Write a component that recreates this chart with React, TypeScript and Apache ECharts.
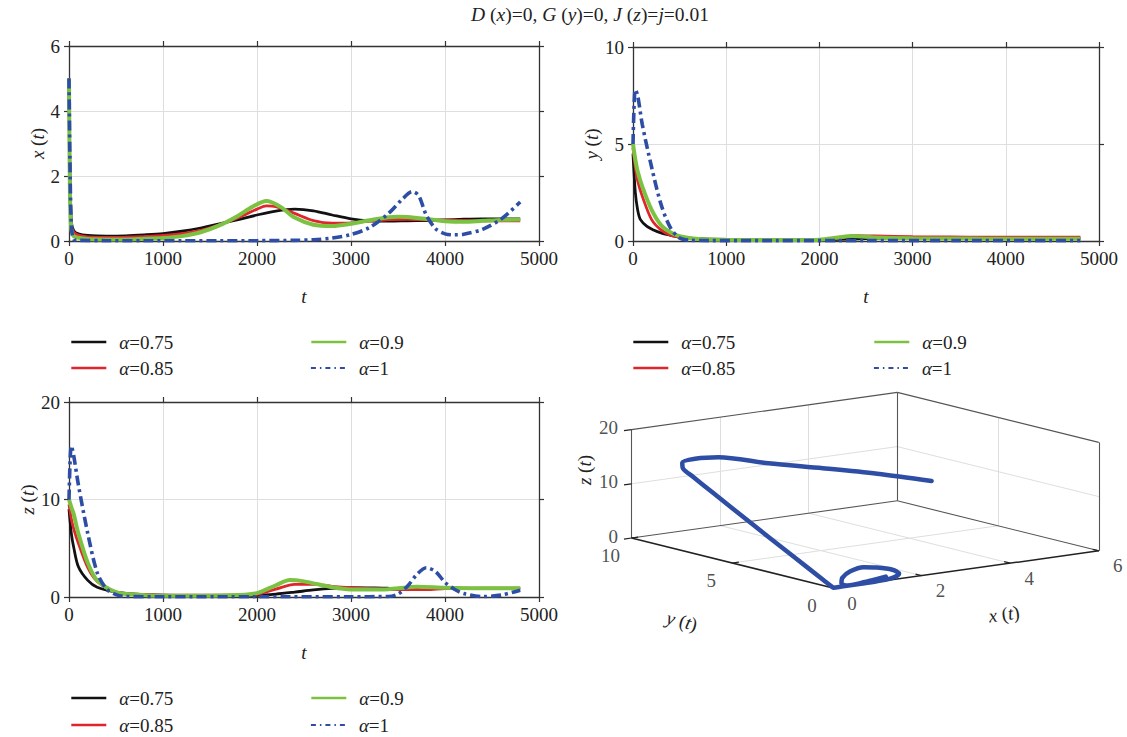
import React, { useEffect, useRef } from "react";
import * as echarts from "echarts";

// ---------- data ----------
const SERIES_NAMES = ["α=0.75", "α=0.85", "α=0.9", "α=1"];
const SERIES_COLORS = ["#111111", "#e0262c", "#7cc242", "#2e4ea5"];
const SERIES_WIDTHS = [2.8, 2.8, 4, 3.6];

// x(t)
const xA075: [number, number][] = [[0,5],[10,2],[25,0.6],[50,0.32],[100,0.22],[200,0.17],[400,0.15],[600,0.16],[800,0.19],[1000,0.23],[1200,0.3],[1400,0.4],[1600,0.53],[1800,0.66],[2000,0.8],[2200,0.92],[2400,0.98],[2600,0.93],[2800,0.8],[3000,0.68],[3200,0.62],[3400,0.61],[3600,0.62],[3800,0.63],[4000,0.65],[4200,0.67],[4400,0.68],[4600,0.68],[4800,0.68]];
const xA085: [number, number][] = [[0,5],[10,1.8],[25,0.45],[50,0.27],[100,0.18],[200,0.13],[400,0.11],[600,0.12],[800,0.14],[1000,0.17],[1200,0.23],[1400,0.33],[1600,0.5],[1800,0.72],[2000,0.98],[2100,1.08],[2200,1.06],[2400,0.85],[2600,0.63],[2800,0.55],[3000,0.56],[3200,0.61],[3400,0.66],[3600,0.67],[3800,0.65],[4000,0.64],[4200,0.63],[4400,0.62],[4600,0.62],[4800,0.62]];
const xA09: [number, number][] = [[0,5],[10,1.5],[25,0.35],[50,0.15],[100,0.1],[200,0.06],[400,0.05],[600,0.05],[800,0.07],[1000,0.09],[1200,0.15],[1400,0.27],[1600,0.48],[1800,0.78],[1950,1.05],[2100,1.23],[2250,1.05],[2400,0.72],[2600,0.5],[2800,0.46],[3000,0.53],[3200,0.64],[3400,0.73],[3500,0.75],[3600,0.74],[3800,0.68],[4000,0.61],[4200,0.59],[4400,0.62],[4600,0.65],[4800,0.66]];
const xA1: [number, number][] = [[0,5],[10,2.5],[25,0.5],[50,0.05],[100,0.02],[400,0.01],[800,0.01],[1200,0.01],[1600,0.01],[2000,0.01],[2400,0.02],[2600,0.04],[2800,0.09],[3000,0.2],[3200,0.42],[3400,0.85],[3550,1.3],[3650,1.52],[3720,1.4],[3800,0.8],[3900,0.38],[4000,0.22],[4100,0.19],[4200,0.21],[4400,0.36],[4600,0.68],[4800,1.2]];

// y(t)
const yA075: [number, number][] = [[0,4.5],[25,2.5],[50,1.6],[80,1.1],[150,0.75],[220,0.57],[300,0.42],[400,0.3],[500,0.2],[700,0.12],[1000,0.08],[1400,0.06],[1800,0.06],[2200,0.08],[2600,0.14],[3000,0.18],[3400,0.16],[3800,0.15],[4200,0.15],[4800,0.15]];
const yA085: [number, number][] = [[0,4.8],[25,3.8],[50,3.1],[100,2.3],[200,1.1],[300,0.57],[400,0.3],[500,0.2],[700,0.1],[1000,0.07],[1400,0.05],[1800,0.05],[2000,0.07],[2200,0.15],[2400,0.28],[2600,0.26],[3000,0.22],[3400,0.21],[3800,0.2],[4200,0.2],[4800,0.2]];
const yA09: [number, number][] = [[0,5.0],[25,4.2],[50,3.6],[100,2.8],[200,1.6],[300,0.82],[400,0.45],[500,0.25],[700,0.1],[1000,0.06],[1400,0.05],[1800,0.05],[2000,0.07],[2200,0.18],[2350,0.26],[2600,0.18],[3000,0.14],[3400,0.13],[3800,0.12],[4200,0.12],[4800,0.12]];
const yA1: [number, number][] = [[0,5],[12,7.0],[25,7.8],[50,7.5],[100,6.0],[200,3.8],[300,1.9],[400,0.7],[500,0.15],[600,0.04],[800,0.02],[1500,0.02],[2500,0.02],[3500,0.02],[4800,0.02]];

// z(t)
const zA075: [number, number][] = [[0,9],[25,6.5],[50,5.1],[100,3.1],[200,1.7],[300,1.0],[500,0.5],[700,0.3],[1000,0.2],[1400,0.15],[1800,0.15],[2000,0.17],[2200,0.3],[2400,0.5],[2600,0.72],[2800,0.88],[3000,0.95],[3400,0.9],[3800,0.87],[4200,0.85],[4800,0.85]];
const zA085: [number, number][] = [[0,9.5],[25,8.0],[50,7.0],[100,5.5],[200,3.0],[300,1.6],[500,0.5],[700,0.3],[1000,0.2],[1400,0.18],[1800,0.2],[2000,0.28],[2200,0.8],[2400,1.3],[2600,1.3],[2800,1.1],[3000,0.95],[3200,0.85],[3500,0.75],[3800,0.75],[4000,0.85],[4400,0.9],[4800,0.9]];
const zA09: [number, number][] = [[0,10],[25,9.2],[50,8.5],[100,6.5],[200,3.5],[300,1.7],[500,0.5],[700,0.25],[1000,0.12],[1400,0.12],[1800,0.2],[2000,0.4],[2200,1.2],[2350,1.75],[2500,1.6],[2800,1.0],[3000,0.78],[3300,0.76],[3500,0.9],[3700,1.05],[4000,0.95],[4400,0.9],[4800,0.9]];
const zA1: [number, number][] = [[0,10],[12,14],[25,15.5],[50,14.5],[100,11.5],[200,6.5],[300,2.5],[400,0.8],[500,0.25],[600,0.05],[1000,0.03],[2000,0.03],[3000,0.03],[3400,0.05],[3500,0.3],[3600,1.1],[3700,2.3],[3800,3.0],[3900,2.6],[4000,1.5],[4100,0.8],[4200,0.35],[4400,0.05],[4600,0.2],[4800,0.7]];

// 3-D phase trajectory (α=1)
const traj3dX = [4.5,3.5,2.5,1.5,0.6,0.3,0.1,0.05,0.03,0.02,0.01,0.01,0.01,0.01,0.02,0.2,0.6,1.0,1.35,1.5,1.35,1.0,0.7,0.4,0.22,0.2,0.3,0.6,0.9,1.2];
const traj3dY = [5,5.5,6,6.5,7,7.5,7.7,7.55,7.0,6,4,2,0.5,0.05,0.02,0.02,0.02,0.02,0.02,0.02,0.02,0.02,0.02,0.02,0.02,0.02,0.02,0.02,0.02,0.02];
const traj3dZ = [10,12,13.7,15.3,17,16.6,15.9,15.0,14.0,12,8,4,1,0.1,0.02,0.02,0.03,0.08,0.3,0.9,1.8,2.6,3.0,2.6,1.6,0.6,0.1,0.15,0.4,0.7];

const X3_TICKS = [0, 2, 4, 6];
const Y3_TICKS = [0, 5, 10];
const Z3_TICKS = [0, 10, 20];
const X3_MAX = 6, Y3_MAX = 10, Z3_MAX = 20;

// ---------- styling ----------
const SERIF = "Liberation Serif";
const AXIS_COLOR = "#333";
const GRID_COLOR = "#dedede";
const TXT = "#222";

// 3-D view frame (screen position of origin and unit vectors)
const VIEW = { ox: 833, oy: 588, ex: [44.3, -6.2], ey: [-20.15, -5.0], ez: -5.42 };
function P(x: number, y: number, z: number): [number, number] {
  return [
    VIEW.ox + x * VIEW.ex[0] + y * VIEW.ey[0],
    VIEW.oy + x * VIEW.ex[1] + y * VIEW.ey[1] + z * VIEW.ez,
  ];
}

const richItalic = { i: { fontStyle: "italic", fontFamily: SERIF, fontSize: 19, color: TXT } };

function axesFor(gridIndex: number, yMax: number, yInterval: number, yName: string, nameGap: number) {
  const line = { show: true, onZero: false, lineStyle: { color: AXIS_COLOR, width: 1.3 } };
  const tick = { show: true, inside: false, length: 5, lineStyle: { color: AXIS_COLOR, width: 1.2 } };
  const plain = (v: number) => String(v);
  const xs = [
    {
      type: "value", gridIndex, min: 0, max: 5000, interval: 1000, position: "bottom",
      axisLine: line, axisTick: tick,
      axisLabel: { fontFamily: SERIF, fontSize: 19, color: TXT, margin: 8, formatter: plain },
      splitLine: { show: true, lineStyle: { color: GRID_COLOR, width: 1 } },
      name: "t", nameLocation: "middle", nameGap: 46,
      nameTextStyle: { fontFamily: SERIF, fontSize: 19, fontStyle: "italic", color: TXT },
    },
    {
      type: "value", gridIndex, min: 0, max: 5000, interval: 1000, position: "top",
      axisLine: line, axisTick: tick, axisLabel: { show: false }, splitLine: { show: false },
    },
  ];
  const ys = [
    {
      type: "value", gridIndex, min: 0, max: yMax, interval: yInterval, position: "left",
      axisLine: line, axisTick: tick,
      axisLabel: { fontFamily: SERIF, fontSize: 19, color: TXT, margin: 9, formatter: plain },
      splitLine: { show: true, lineStyle: { color: GRID_COLOR, width: 1 } },
      name: `{i|${yName}} ({i|t})`, nameLocation: "middle", nameGap, nameRotate: 90,
      nameTextStyle: { fontFamily: SERIF, fontSize: 19, color: TXT, rich: richItalic },
    },
    {
      type: "value", gridIndex, min: 0, max: yMax, interval: yInterval, position: "right",
      axisLine: line, axisTick: tick, axisLabel: { show: false }, splitLine: { show: false },
    },
  ];
  return { xs, ys };
}

function seriesFor(gridIndex: number, sets: [number, number][][]) {
  return sets.map((d, k) => ({
    type: "line",
    name: SERIES_NAMES[k],
    xAxisIndex: gridIndex * 2,
    yAxisIndex: gridIndex * 2,
    data: d,
    showSymbol: false,
    symbol: "none",
    smooth: 0.3,
    lineStyle: {
      color: SERIES_COLORS[k],
      width: SERIES_WIDTHS[k],
      type: k === 3 ? [10, 4, 3, 4] : "solid",
    },
    itemStyle: { color: SERIES_COLORS[k] },
  }));
}

// one legend component per item so that the 2x2 block lines up exactly
function legendsFor(top1: number, top2: number, left1: number, left2: number) {
  const slots = [
    { left: left1, top: top1 },
    { left: left1, top: top2 },
    { left: left2, top: top1 },
    { left: left2, top: top2 },
  ];
  return SERIES_NAMES.map((n, k) => ({
    orient: "horizontal",
    left: slots[k].left,
    top: slots[k].top,
    padding: 0,
    itemWidth: 35,
    itemHeight: 20,
    selectedMode: false,
    itemStyle: { opacity: 0 },
    lineStyle: k === 3 ? { width: 1.8, type: [5, 4, 1.5, 4] } : { width: 2.6 },
    textStyle: {
      fontFamily: SERIF, fontSize: 19, color: TXT, lineHeight: 20, padding: [0, 0, 0, 8],
      rich: { i: { fontStyle: "italic", fontFamily: SERIF, fontSize: 19, color: TXT, lineHeight: 20 } },
    },
    formatter: (s: string) => `{i|α}${s.slice(1)}`,
    data: [n],
  }));
}

function build3D() {
  const edges: number[][] = [
    [0, Y3_MAX, 0, 0, Y3_MAX, Z3_MAX],
    [0, Y3_MAX, Z3_MAX, X3_MAX, Y3_MAX, Z3_MAX],
    [X3_MAX, Y3_MAX, Z3_MAX, X3_MAX, 0, Z3_MAX],
    [X3_MAX, Y3_MAX, 0, X3_MAX, Y3_MAX, Z3_MAX],
    [X3_MAX, 0, 0, X3_MAX, 0, Z3_MAX],
    [0, Y3_MAX, 0, X3_MAX, Y3_MAX, 0],
    [X3_MAX, Y3_MAX, 0, X3_MAX, 0, 0],
  ];
  const axes: number[][] = [
    [0, Y3_MAX, 0, 0, 0, 0],
    [0, 0, 0, X3_MAX, 0, 0],
  ];
  const grids: number[][] = [];
  X3_TICKS.filter((v) => v > 0 && v < X3_MAX).forEach((v) => {
    grids.push([v, 0, 0, v, Y3_MAX, 0]);
    grids.push([v, Y3_MAX, 0, v, Y3_MAX, Z3_MAX]);
  });
  Y3_TICKS.filter((v) => v > 0 && v < Y3_MAX).forEach((v) => {
    grids.push([0, v, 0, X3_MAX, v, 0]);
    grids.push([X3_MAX, v, 0, X3_MAX, v, Z3_MAX]);
  });
  Z3_TICKS.filter((v) => v > 0 && v < Z3_MAX).forEach((v) => {
    grids.push([0, Y3_MAX, v, X3_MAX, Y3_MAX, v]);
    grids.push([X3_MAX, Y3_MAX, v, X3_MAX, 0, v]);
  });
  const ticks: number[][] = [];
  Z3_TICKS.forEach((v) => ticks.push([0, Y3_MAX, v, -0.17, Y3_MAX, v]));
  X3_TICKS.filter((v) => v > 0).forEach((v) => ticks.push([v, 0, 0, v, 0.3, 0]));
  Y3_TICKS.filter((v) => v > 0).forEach((v) => ticks.push([0, v, 0, 0.15, v, 0]));

  const toLines = (arr: number[][]) =>
    arr.map((e) => ({ coords: [P(e[0], e[1], e[2]), P(e[3], e[4], e[5])] }));

  const common = { coordinateSystem: "cartesian2d", xAxisIndex: 6, yAxisIndex: 6, silent: true };
  const labelStyle = { fontFamily: SERIF, fontSize: 19, color: TXT };

  return [
    { ...common, type: "lines", data: toLines(grids), lineStyle: { color: GRID_COLOR, width: 1, opacity: 1, curveness: 0 }, z: 1 },
    { ...common, type: "lines", data: toLines(edges), lineStyle: { color: "#555", width: 1.1, opacity: 1, curveness: 0 }, z: 2 },
    { ...common, type: "lines", data: toLines(axes), lineStyle: { color: "#222", width: 1.5, opacity: 1, curveness: 0 }, z: 2 },
    { ...common, type: "lines", data: toLines(ticks), lineStyle: { color: "#222", width: 1.2, opacity: 1, curveness: 0 }, z: 2 },
    {
      ...common, type: "line", name: "trajectory3d",
      data: traj3dX.map((x, i) => P(x, traj3dY[i], traj3dZ[i])),
      showSymbol: false, symbol: "none", smooth: 0.3,
      lineStyle: { color: "#2e4ea5", width: 4.5, cap: "round", join: "round" }, z: 3,
    },
    {
      ...common, type: "scatter", symbolSize: 1, itemStyle: { color: "transparent" },
      data: Z3_TICKS.map((v) => ({ value: P(0, Y3_MAX, v), name: String(v) })),
      label: { show: true, position: "left", distance: 13, offset: [0, -2], formatter: "{b}", ...labelStyle },
    },
    {
      ...common, type: "scatter", symbolSize: 1, itemStyle: { color: "transparent" },
      data: Y3_TICKS.map((v) => ({ value: P(0, v, 0), name: String(v) })),
      label: { show: true, position: "inside", offset: [-21, 17], formatter: "{b}", ...labelStyle },
    },
    {
      ...common, type: "scatter", symbolSize: 1, itemStyle: { color: "transparent" },
      data: X3_TICKS.map((v) => ({ value: P(v, 0, 0), name: String(v) })),
      label: { show: true, position: "inside", offset: [19, 15], formatter: "{b}", ...labelStyle },
    },
  ];
}

export default function App() {
  const ref = useRef<HTMLDivElement>(null);
  useEffect(() => {
    if (!ref.current) return;
    const chart = echarts.init(ref.current, undefined, { renderer: "svg" });
    const a0 = axesFor(0, 6, 2, "x", 21);
    const a1 = axesFor(1, 10, 5, "y", 24);
    const a2 = axesFor(2, 20, 10, "z", 25);

    const titleRich = { i: { fontStyle: "italic", fontFamily: SERIF, fontSize: 19.5, fill: TXT } };
    const axRich = { i: { fontStyle: "italic", fontFamily: SERIF, fontSize: 19, fill: TXT } };

    const option: any = {
      animation: false,
      backgroundColor: "#ffffff",
      grid: [
        { left: 69, top: 46, width: 470, height: 195 },
        { left: 633, top: 47, width: 466, height: 194 },
        { left: 69, top: 402, width: 470, height: 195 },
        { left: 0, top: 0, width: 1127, height: 737 },
      ],
      xAxis: [
        ...a0.xs, ...a1.xs, ...a2.xs,
        { type: "value", gridIndex: 3, min: 0, max: 1127, show: false },
      ],
      yAxis: [
        ...a0.ys, ...a1.ys, ...a2.ys,
        { type: "value", gridIndex: 3, min: 0, max: 737, inverse: true, show: false },
      ],
      legend: [
        ...legendsFor(332, 358, 70, 310),
        ...legendsFor(332, 358, 632, 873),
        ...legendsFor(688, 715, 70, 310),
      ],
      graphic: [
        {
          type: "text", x: 590, y: 14,
          style: {
            text: "{i|D} ({i|x})=0, {i|G} ({i|y})=0, {i|J} ({i|z})={i|j}=0.01",
            font: `19.5px ${SERIF}`, fill: TXT, align: "center", verticalAlign: "middle",
            rich: titleRich,
          },
        },
        {
          type: "text", x: 584, y: 470, rotation: Math.PI / 2,
          style: { text: "{i|z} ({i|t})", font: `19px ${SERIF}`, fill: TXT, align: "center", verticalAlign: "middle", rich: axRich },
        },
        {
          type: "text", x: 682, y: 621, rotation: -0.25,
          style: { text: "{i|y} ({i|t})", font: `19px ${SERIF}`, fill: TXT, align: "center", verticalAlign: "middle", rich: axRich },
        },
        {
          type: "text", x: 1004, y: 614, rotation: 0.14,
          style: { text: "{i|x} ({i|t})", font: `19px ${SERIF}`, fill: TXT, align: "center", verticalAlign: "middle", rich: axRich },
        },
      ],
      series: [
        ...seriesFor(0, [xA075, xA085, xA09, xA1]),
        ...seriesFor(1, [yA075, yA085, yA09, yA1]),
        ...seriesFor(2, [zA075, zA085, zA09, zA1]),
        ...build3D(),
      ],
    };
    chart.setOption(option);
    return () => chart.dispose();
  }, []);
  return (
    <div
      ref={ref}
      style={{ position: "absolute", left: 0, top: 0, width: 1127, height: 737, background: "#fff" }}
    />
  );
}
